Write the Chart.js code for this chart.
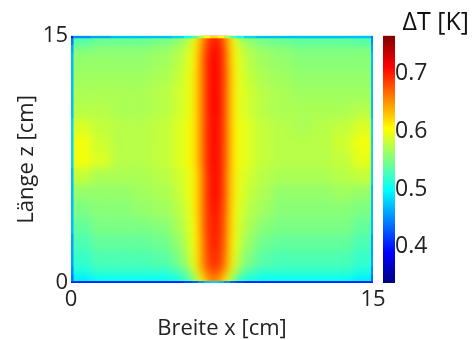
<!DOCTYPE html>
<html>
<head>
<meta charset="utf-8">
<script src="https://cdn.jsdelivr.net/npm/chart.js@4.4.0/dist/chart.umd.min.js"></script>
<style>
    body { margin: 0; background: #fff; }
    #wrap { width: 473px; height: 340px; }
</style>
</head>
<body>
<div id="wrap"><canvas id="heat"></canvas></div>
<script>
// Cell edges (cm): x = Breite, z = Länge
const xEdges = [0, 0.1, 1, 2, 3, 4, 5, 5.6, 6.0, 6.3, 6.6, 6.9, 7.3, 7.6, 7.9, 8.2, 8.6, 9.2, 10, 11, 12, 13, 14, 14.9, 15];
const zEdges = [0, 0.12, 0.5, 1, 2, 3, 4, 5, 6, 7, 8, 9, 10, 11, 12, 13, 14, 14.5, 14.88, 15];

// ΔT [K] per cell, one row per z band, from bottom (z = 0) to top (z = 15)
const dT = [
    [0.40, 0.41, 0.41, 0.41, 0.41, 0.41, 0.41, 0.42, 0.43, 0.45, 0.47, 0.48, 0.47, 0.45, 0.43, 0.42, 0.41, 0.41, 0.41, 0.41, 0.41, 0.41, 0.41, 0.40],
    [0.44, 0.49, 0.50, 0.50, 0.50, 0.50, 0.51, 0.53, 0.56, 0.60, 0.64, 0.66, 0.64, 0.60, 0.55, 0.52, 0.51, 0.50, 0.50, 0.50, 0.50, 0.50, 0.49, 0.44],
    [0.45, 0.51, 0.52, 0.52, 0.52, 0.52, 0.53, 0.55, 0.59, 0.63, 0.67, 0.68, 0.67, 0.63, 0.59, 0.55, 0.53, 0.52, 0.52, 0.52, 0.52, 0.52, 0.51, 0.45],
    [0.46, 0.52, 0.53, 0.53, 0.53, 0.535, 0.55, 0.575, 0.60, 0.64, 0.68, 0.695, 0.685, 0.645, 0.60, 0.57, 0.55, 0.535, 0.53, 0.53, 0.53, 0.53, 0.52, 0.46],
    [0.46, 0.53, 0.54, 0.54, 0.54, 0.545, 0.56, 0.58, 0.605, 0.64, 0.685, 0.70, 0.69, 0.65, 0.605, 0.58, 0.56, 0.545, 0.54, 0.54, 0.54, 0.54, 0.53, 0.46],
    [0.47, 0.54, 0.55, 0.55, 0.55, 0.555, 0.57, 0.585, 0.605, 0.645, 0.69, 0.70, 0.695, 0.65, 0.61, 0.585, 0.57, 0.555, 0.55, 0.55, 0.55, 0.55, 0.54, 0.47],
    [0.47, 0.55, 0.555, 0.555, 0.56, 0.565, 0.575, 0.59, 0.61, 0.645, 0.69, 0.705, 0.695, 0.655, 0.61, 0.59, 0.575, 0.565, 0.555, 0.555, 0.555, 0.555, 0.55, 0.47],
    [0.47, 0.56, 0.56, 0.56, 0.565, 0.57, 0.58, 0.595, 0.61, 0.645, 0.69, 0.71, 0.70, 0.655, 0.615, 0.595, 0.58, 0.57, 0.56, 0.56, 0.56, 0.565, 0.56, 0.47],
    [0.47, 0.58, 0.57, 0.57, 0.57, 0.575, 0.585, 0.595, 0.61, 0.645, 0.69, 0.71, 0.70, 0.655, 0.615, 0.595, 0.585, 0.575, 0.57, 0.57, 0.57, 0.575, 0.58, 0.48],
    [0.48, 0.60, 0.59, 0.575, 0.575, 0.58, 0.59, 0.60, 0.615, 0.65, 0.695, 0.71, 0.70, 0.66, 0.615, 0.60, 0.59, 0.58, 0.575, 0.575, 0.575, 0.58, 0.595, 0.48],
    [0.48, 0.60, 0.585, 0.575, 0.575, 0.58, 0.59, 0.60, 0.615, 0.65, 0.695, 0.71, 0.70, 0.66, 0.615, 0.60, 0.59, 0.58, 0.575, 0.575, 0.575, 0.585, 0.60, 0.48],
    [0.48, 0.59, 0.58, 0.575, 0.575, 0.58, 0.59, 0.60, 0.615, 0.65, 0.695, 0.71, 0.70, 0.66, 0.615, 0.60, 0.59, 0.58, 0.575, 0.57, 0.575, 0.58, 0.59, 0.48],
    [0.47, 0.575, 0.575, 0.57, 0.57, 0.575, 0.585, 0.595, 0.615, 0.65, 0.695, 0.712, 0.702, 0.66, 0.615, 0.595, 0.585, 0.575, 0.57, 0.57, 0.57, 0.57, 0.575, 0.47],
    [0.47, 0.57, 0.57, 0.57, 0.57, 0.575, 0.585, 0.595, 0.615, 0.65, 0.695, 0.712, 0.702, 0.66, 0.615, 0.595, 0.585, 0.575, 0.57, 0.565, 0.565, 0.565, 0.565, 0.47],
    [0.47, 0.565, 0.565, 0.565, 0.565, 0.57, 0.58, 0.595, 0.615, 0.65, 0.695, 0.712, 0.702, 0.66, 0.615, 0.595, 0.58, 0.57, 0.565, 0.56, 0.56, 0.56, 0.56, 0.47],
    [0.47, 0.56, 0.56, 0.56, 0.56, 0.565, 0.575, 0.59, 0.61, 0.65, 0.695, 0.712, 0.70, 0.66, 0.61, 0.59, 0.575, 0.565, 0.56, 0.555, 0.555, 0.555, 0.555, 0.47],
    [0.46, 0.55, 0.555, 0.555, 0.555, 0.56, 0.57, 0.585, 0.61, 0.645, 0.69, 0.71, 0.70, 0.655, 0.61, 0.585, 0.57, 0.56, 0.555, 0.55, 0.55, 0.55, 0.55, 0.46],
    [0.44, 0.53, 0.54, 0.54, 0.54, 0.545, 0.555, 0.57, 0.60, 0.635, 0.68, 0.70, 0.69, 0.645, 0.60, 0.57, 0.555, 0.545, 0.54, 0.535, 0.535, 0.535, 0.53, 0.45],
    [0.40, 0.45, 0.46, 0.47, 0.47, 0.47, 0.48, 0.50, 0.53, 0.57, 0.60, 0.62, 0.60, 0.57, 0.53, 0.50, 0.48, 0.47, 0.47, 0.47, 0.47, 0.47, 0.47, 0.44]
];

// Axis ticks and colour range
const xTicks = [0, 15];
const zTicks = [0, 15];
const colorTicks = [0.4, 0.5, 0.6, 0.7];
const cbMin = 0.337;
const cbMax = 0.766;

const FONT = '"Open Sans", "DejaVu Sans", sans-serif';

// MATLAB style jet colour map, t in [0, 1]
function jetT(t) {
    const c = v => Math.round(255 * Math.max(0, Math.min(1, v)));
    const r = c(1.5 - Math.abs(4 * t - 3));
    const g = c(1.5 - Math.abs(4 * t - 2));
    const b = c(1.5 - Math.abs(4 * t - 1));
    return `rgb(${r},${g},${b})`;
}

function jet(v) {
    return jetT((v - cbMin) / (cbMax - cbMin));
}

// Draws the cells (smoothed like the measured image) and the colour bar from the chart scales
const heatmapPlugin = {
    id: 'heatmap',
    beforeDatasetsDraw(chart) {
        const { ctx, chartArea, scales } = chart;
        const xs = scales.x, ys = scales.y, cs = scales.cb;
        const nx = xEdges.length - 1, nz = zEdges.length - 1;
        const ext = 12;

        const cell = (i, j) => {
            const x0 = xs.getPixelForValue(xEdges[j]);
            const x1 = xs.getPixelForValue(xEdges[j + 1]);
            const y0 = ys.getPixelForValue(zEdges[i + 1]);
            const y1 = ys.getPixelForValue(zEdges[i]);
            return [x0, y0, x1, y1];
        };

        // inner cells on an offscreen layer, outer ring stretched past the frame
        const off = document.createElement('canvas');
        off.width = chart.width;
        off.height = chart.height;
        const octx = off.getContext('2d');
        for (let i = 1; i < nz - 1; i++) {
            for (let j = 1; j < nx - 1; j++) {
                let [x0, y0, x1, y1] = cell(i, j);
                if (j === 1) x0 = chartArea.left - ext;
                if (j === nx - 2) x1 = chartArea.right + ext;
                if (i === 1) y1 = chartArea.bottom + ext;
                if (i === nz - 2) y0 = chartArea.top - ext;
                octx.fillStyle = jet(dT[i][j]);
                octx.fillRect(x0, y0, x1 - x0 + 0.5, y1 - y0 + 0.5);
            }
        }

        ctx.save();
        ctx.beginPath();
        ctx.rect(chartArea.left, chartArea.top, chartArea.width, chartArea.height);
        ctx.clip();
        ctx.filter = 'blur(4px)';
        ctx.drawImage(off, 0, 0, chart.width, chart.height);
        ctx.filter = 'none';

        // thin border cells drawn sharp
        for (let i = 0; i < nz; i++) {
            for (let j = 0; j < nx; j++) {
                if (i !== 0 && i !== nz - 1 && j !== 0 && j !== nx - 1) continue;
                const [x0, y0, x1, y1] = cell(i, j);
                ctx.fillStyle = jet(dT[i][j]);
                ctx.fillRect(x0, y0, x1 - x0 + 0.5, y1 - y0 + 0.5);
            }
        }
        ctx.restore();

        // Colour bar
        const top = cs.getPixelForValue(cbMax);
        const bottom = cs.getPixelForValue(cbMin);
        const left = chartArea.right + 10;
        const grad = ctx.createLinearGradient(0, bottom, 0, top);
        for (let k = 0; k <= 16; k++) {
            grad.addColorStop(k / 16, jetT(k / 16));
        }
        ctx.save();
        ctx.fillStyle = grad;
        ctx.fillRect(left, top, 12, bottom - top);
        ctx.restore();
    }
};

const hiddenGrid = { display: false, drawTicks: false };

new Chart(document.getElementById('heat').getContext('2d'), {
    type: 'scatter',
    data: { datasets: [] },
    plugins: [heatmapPlugin],
    options: {
        responsive: true,
        maintainAspectRatio: false,
        animation: false,
        layout: { padding: { right: 4 } },
        plugins: {
            legend: { display: false },
            tooltip: { enabled: false },
            title: {
                display: true,
                text: 'ΔT [K]',
                align: 'end',
                color: '#111',
                font: { family: FONT, size: 25, weight: 'normal', lineHeight: 1 },
                padding: { top: 9, bottom: 0 }
            }
        },
        scales: {
            x: {
                type: 'linear',
                position: 'bottom',
                min: 0,
                max: 15,
                grid: hiddenGrid,
                border: { display: false },
                afterBuildTicks: axis => { axis.ticks = xTicks.map(v => ({ value: v })); },
                afterFit: axis => { axis.height = 57; },
                ticks: { color: '#222', padding: 4, maxRotation: 0, autoSkip: false, font: { family: FONT, size: 22 } },
                title: {
                    display: true,
                    text: 'Breite x [cm]',
                    color: '#222',
                    font: { family: FONT, size: 22, lineHeight: 1 },
                    padding: { top: 0, bottom: 0 }
                }
            },
            y: {
                type: 'linear',
                position: 'left',
                min: 0,
                max: 15,
                grid: hiddenGrid,
                border: { display: false },
                afterBuildTicks: axis => { axis.ticks = zTicks.map(v => ({ value: v })); },
                afterFit: axis => { axis.width = 71; },
                ticks: { color: '#222', padding: 3, autoSkip: false, font: { family: FONT, size: 22 } },
                title: {
                    display: true,
                    text: 'Länge z [cm]',
                    color: '#222',
                    font: { family: FONT, size: 22, lineHeight: 1 },
                    padding: { top: 16, bottom: 0 }
                }
            },
            cb: {
                type: 'linear',
                position: 'right',
                min: cbMin,
                max: cbMax,
                grid: hiddenGrid,
                border: { display: false },
                afterBuildTicks: axis => { axis.ticks = colorTicks.map(v => ({ value: v })); },
                afterFit: axis => { axis.width = 96; },
                ticks: {
                    color: '#222',
                    padding: 22,
                    autoSkip: false,
                    font: { family: FONT, size: 23 },
                    callback: v => v.toFixed(1)
                }
            }
        }
    }
});
</script>
</body>
</html>
